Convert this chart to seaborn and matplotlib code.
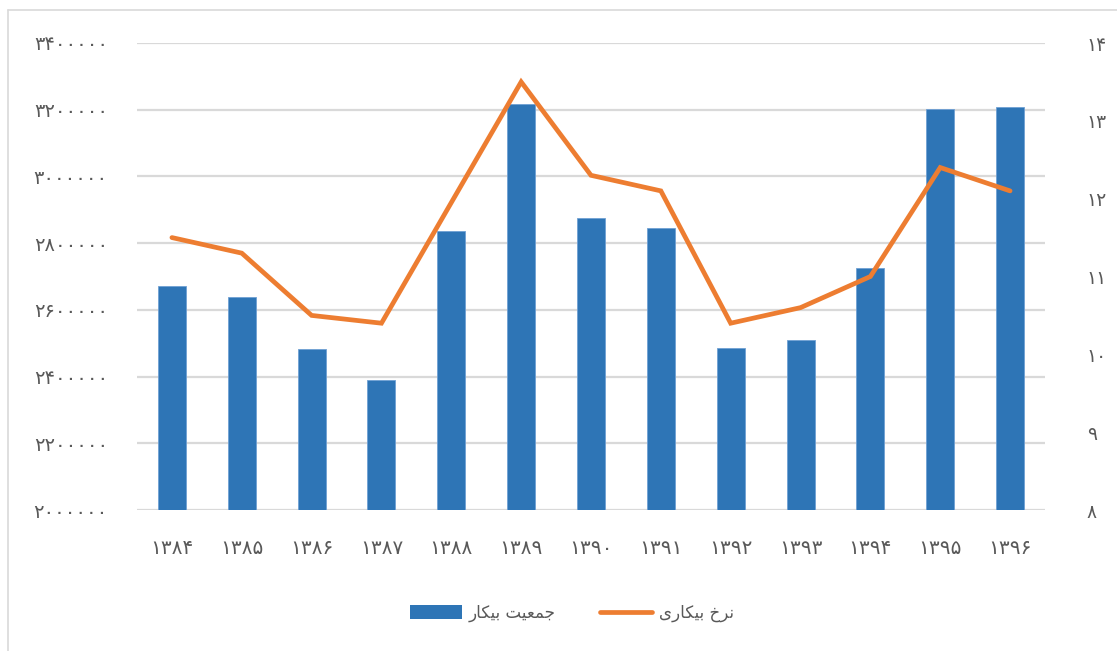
import numpy as np
import pandas as pd
import matplotlib
matplotlib.use("Agg")
import matplotlib.pyplot as plt
from matplotlib.lines import Line2D
from matplotlib.patches import Patch
import seaborn as sns

# ---------------- data ----------------
years = [1384, 1385, 1386, 1387, 1388, 1389, 1390, 1391, 1392, 1393, 1394, 1395, 1396]
unemployed_pop = [2672000, 2638000, 2483000, 2390000, 2836000, 3217000, 2875000,
                  2845000, 2486000, 2510000, 2725000, 3202000, 3208000]
unemployment_rate = [11.5, 11.3, 10.5, 10.4, 11.95, 13.5, 12.3, 12.1, 10.4, 10.6, 11.0, 12.4, 12.1]
left_ticks = [2000000, 2200000, 2400000, 2600000, 2800000, 3000000, 3200000, 3400000]
right_ticks = [8, 9, 10, 11, 12, 13, 14]
label_pop = "جمعیت بیکار"
label_rate = "نرخ بیکاری"

# ---------------- helpers ----------------
PERSIAN = str.maketrans("0123456789", "۰۱۲۳۴۵۶۷۸۹")


def fa(n):
    return str(n).translate(PERSIAN)


# (isolated, final, initial, medial)
FORMS = {
    "ج": ("\uFE9D", "\uFE9E", "\uFE9F", "\uFEA0"),
    "م": ("\uFEE1", "\uFEE2", "\uFEE3", "\uFEE4"),
    "ع": ("\uFEC9", "\uFECA", "\uFECB", "\uFECC"),
    "ی": ("\uFBFC", "\uFBFD", "\uFBFE", "\uFBFF"),
    "ت": ("\uFE95", "\uFE96", "\uFE97", "\uFE98"),
    "ب": ("\uFE8F", "\uFE90", "\uFE91", "\uFE92"),
    "ک": ("\uFB8E", "\uFB8F", "\uFB90", "\uFB91"),
    "ن": ("\uFEE5", "\uFEE6", "\uFEE7", "\uFEE8"),
    "خ": ("\uFEA5", "\uFEA6", "\uFEA7", "\uFEA8"),
    "ا": ("\uFE8D", "\uFE8E", None, None),
    "ر": ("\uFEAD", "\uFEAE", None, None),
}


def dual(c):
    return c in FORMS and FORMS[c][2] is not None


def joining(c):
    return c in FORMS


def shape(text):
    out = []
    for i, c in enumerate(text):
        if c not in FORMS:
            out.append(c)
            continue
        prev = text[i - 1] if i > 0 else None
        nxt = text[i + 1] if i + 1 < len(text) else None
        jp = prev is not None and dual(prev)
        jn = dual(c) and nxt is not None and joining(nxt)
        iso, fin, ini, med = FORMS[c]
        if jp and jn:
            out.append(med)
        elif jp:
            out.append(fin)
        elif jn:
            out.append(ini)
        else:
            out.append(iso)
    return "".join(out)[::-1]


# ---------------- plot ----------------
sns.set_theme(style="white")
plt.rcParams["font.family"] = ["DejaVu Sans"]

BLUE = "#2E75B6"
ORANGE = "#ED7D31"
GRID = "#D9D9D9"
TXT = "#595959"

df = pd.DataFrame({
    "year": [fa(y) for y in years],
    "pop": unemployed_pop,
    "rate": unemployment_rate,
})

fig = plt.figure(figsize=(11.17, 6.51), dpi=100)
ax = fig.add_axes([137 / 1117, 1 - 510 / 651, (1045 - 137) / 1117, (510 - 43) / 651])

sns.barplot(data=df, x="year", y="pop", color=BLUE, width=0.4, ax=ax,
            saturation=1, edgecolor="#6FA0D3", linewidth=0.6)
ax.set_xlim(-0.5, len(years) - 0.5)
ax.set_ylim(2000000, 3400000)
ax.set_yticks(left_ticks)
ax.set_yticklabels([fa(v) for v in left_ticks])
ax.yaxis.grid(True, color=GRID, linewidth=1.6)
ax.set_axisbelow(True)
ax.set_xlabel("")
ax.set_ylabel("")
for s in ax.spines.values():
    s.set_visible(False)
ax.tick_params(axis="y", length=0, pad=21, labelsize=14, labelcolor=TXT)
ax.tick_params(axis="x", length=0, pad=21, labelsize=14.5, labelcolor=TXT)

ax2 = ax.twinx()
sns.lineplot(x=np.arange(len(df)), y=df["rate"].values, ax=ax2, color=ORANGE,
             linewidth=3.4, solid_capstyle="round", solid_joinstyle="miter")
ax2.set_ylim(8, 14)
ax2.set_yticks(right_ticks)
ax2.set_yticklabels([fa(v) for v in right_ticks])
ax2.set_ylabel("")
for s in ax2.spines.values():
    s.set_visible(False)
ax2.tick_params(axis="y", length=0, pad=30, labelsize=13.5, labelcolor=TXT)
ax2.grid(False)

handles = [Patch(facecolor=BLUE, edgecolor="none"),
           Line2D([0], [0], color=ORANGE, linewidth=3.4, solid_capstyle="round")]
fig.legend(handles, [shape(label_pop), shape(label_rate)], loc="center",
           bbox_to_anchor=(572 / 1117, 1 - 613 / 651), ncol=2, frameon=False,
           fontsize=12, labelcolor=TXT, handlelength=3.1, handleheight=0.9,
           columnspacing=2.7, handletextpad=0.4)

# outer chart frame (left and top)
fig.add_artist(Line2D([7.5 / 1117, 7.5 / 1117], [0, 1 - 10 / 651], color="#D9D9D9",
                      linewidth=1.2, transform=fig.transFigure))
fig.add_artist(Line2D([7.5 / 1117, 1], [1 - 10 / 651, 1 - 10 / 651], color="#D9D9D9",
                      linewidth=1.2, transform=fig.transFigure))

fig.savefig("out.png", dpi=100, facecolor="white")
